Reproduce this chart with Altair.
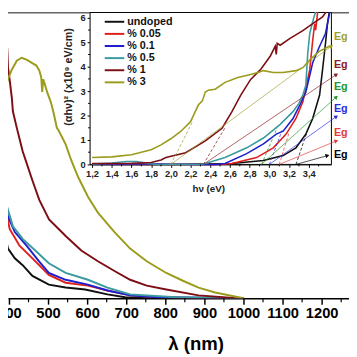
import math
import altair as alt
import pandas as pd

FONT = "Liberation Sans"

series = ["undoped", "% 0.05", "% 0.1", "% 0.5", "% 1", "% 3"]
line_colors = ["#111111", "#e0201c", "#1f1fd0", "#3a9aa0", "#7d0f14", "#9c9c1c"]

# ---- main spectrum: wavelength (nm) vs absorbance (a.u.) ----
lam_undoped = [377, 385, 397.5, 415, 435, 460, 502, 545, 595, 652, 697, 750, 850, 1000]
abs_undoped = [0.84, 0.74, 0.51, 0.41, 0.34, 0.23, 0.14, 0.11, 0.09, 0.04, 0.01, 0.005, 0.0, 0.0]

lam_005 = [382, 395, 402, 427, 460, 502, 545, 602, 652, 710, 777, 850, 1000]
abs_005 = [1.11, 0.84, 0.71, 0.54, 0.41, 0.24, 0.16, 0.13, 0.08, 0.03, 0.01, 0.005, 0.0]

lam_01 = [377, 390, 397.5, 415, 445, 477, 502, 545, 602, 652, 710, 780, 1000]
abs_01 = [1.28, 1.01, 0.84, 0.68, 0.54, 0.38, 0.26, 0.19, 0.14, 0.08, 0.03, 0.01, 0.0]

lam_05 = [377, 385, 395, 410, 435, 470, 502, 545, 602, 652, 710, 827, 1000]
abs_05 = [1.38, 1.18, 0.94, 0.74, 0.61, 0.48, 0.36, 0.26, 0.19, 0.11, 0.04, 0.01, 0.0]

lam_1 = [377, 390, 394, 395.5, 397.5, 402.5, 407.5, 410, 420, 427.5, 435, 447.5, 460, 477.5,
         502.5, 545, 585, 627.5, 670, 710, 752.5, 802.5, 885, 982.5, 1000]
abs_1 = [2.10, 2.12, 2.13, 2.57, 2.37, 2.22, 2.05, 1.92, 1.75, 1.63, 1.51, 1.36, 1.21, 1.01,
         0.81, 0.64, 0.49, 0.38, 0.28, 0.19, 0.13, 0.09, 0.03, 0.0, 0.0]

lam_3 = [377, 390, 397.5, 407.5, 420, 432.5, 445, 457.5, 470, 477.5, 482.5, 485, 487.5, 490,
         497.5, 507.5, 515, 522.5, 527.5, 545, 560, 577.5, 602.5, 627.5, 670, 710, 752.5,
         802.5, 845, 885, 927.5, 1000]
abs_3 = [2.14, 2.15, 2.25, 2.35, 2.44, 2.47, 2.45, 2.42, 2.39, 2.34, 2.27, 2.12, 2.25, 2.22,
         2.12, 2.01, 1.89, 1.75, 1.72, 1.58, 1.41, 1.24, 1.04, 0.88, 0.68, 0.51, 0.38,
         0.26, 0.18, 0.11, 0.06, 0.0]

main_lams = [lam_undoped, lam_005, lam_01, lam_05, lam_1, lam_3]
main_vals = [abs_undoped, abs_005, abs_01, abs_05, abs_1, abs_3]

# ---- inset: photon energy (eV) vs (alpha h nu)^2 (x10^9 eV/cm) ----
ev_undoped = [1.2, 2.0, 2.62, 2.94, 3.14, 3.27, 3.37, 3.44, 3.51, 3.54, 3.57, 3.59, 3.61]
ah_undoped = [0.0, 0.0, 0.04, 0.16, 0.36, 0.68, 1.24, 1.88, 2.84, 3.88, 4.96, 5.76, 6.28]

ev_005 = [1.2, 2.0, 2.5, 2.62, 2.87, 3.04, 3.17, 3.27, 3.34, 3.41, 3.44, 3.46, 3.47, 3.5]
ah_005 = [0.02, 0.0, 0.0, 0.04, 0.28, 0.68, 1.24, 1.88, 2.56, 3.88, 5.08, 5.76, 5.5, 6.6]

ev_01 = [1.2, 1.8, 2.2, 2.45, 2.55, 2.77, 2.94, 3.07, 3.14, 3.24, 3.31, 3.37, 3.44, 3.51, 3.57, 3.61, 3.62]
ah_01 = [0.02, 0.02, 0.0, 0.0, 0.04, 0.44, 0.84, 1.24, 1.36, 1.88, 2.44, 2.96, 4.16, 4.84, 5.36, 6.16, 6.5]

ev_05 = [1.2, 1.4, 1.55, 1.65, 1.75, 1.85, 2.0, 2.3, 2.35, 2.55, 2.77, 2.94, 3.11, 3.24, 3.3,
         3.34, 3.37, 3.39, 3.41, 3.45, 3.5]
ah_05 = [0.02, 0.06, 0.12, 0.12, 0.06, 0.0, 0.0, 0.0, 0.04, 0.28, 0.68, 1.08, 1.64, 2.16, 2.5,
         2.84, 3.24, 4.56, 5.36, 6.0, 6.6]

ev_1 = [1.2, 1.6, 1.8, 1.9, 1.95, 2.15, 2.35, 2.52, 2.62, 2.71, 2.81, 2.91, 3.01, 3.06, 3.07,
        3.08, 3.11, 3.21, 3.34, 3.44, 3.54, 3.61]
ah_1 = [0.04, 0.05, 0.08, 0.18, 0.28, 0.48, 0.96, 1.48, 2.16, 2.84, 3.48, 3.88, 4.44, 4.84, 4.5,
        4.96, 4.88, 5.16, 5.48, 5.76, 6.04, 6.44]

ev_3 = [1.2, 1.4, 1.6, 1.8, 1.9, 2.0, 2.1, 2.2, 2.28, 2.32, 2.35, 2.38, 2.45, 2.55, 2.68, 2.81,
        2.9, 2.94, 3.04, 3.14, 3.27, 3.34, 3.41, 3.51, 3.61]
ah_3 = [0.28, 0.31, 0.40, 0.60, 0.80, 1.05, 1.35, 1.75, 2.44, 2.60, 2.96, 3.04, 3.08, 3.36, 3.56,
        3.68, 3.78, 3.84, 3.76, 3.76, 3.84, 3.96, 4.28, 4.64, 4.84]

ins_evs = [ev_undoped, ev_005, ev_01, ev_05, ev_1, ev_3]
ins_vals = [ah_undoped, ah_005, ah_01, ah_05, ah_1, ah_3]

# ---- band gap extrapolations ----
eg_values = [3.27, 3.10, 3.00, 2.92, 2.33, 2.00]
eg_colors = ["#000000", "#e33a3a", "#2a2ae0", "#24962a", "#8b1a1a", "#a0a02a"]
tangent_end_ev = [3.38, 3.20, 3.13, 3.08, 2.55, 2.22]
tangent_end_y = [1.30, 1.30, 1.40, 1.50, 1.50, 1.75]
arrow_end_ev = [3.59, 3.68, 3.68, 3.68, 3.68, 3.63]
arrow_end_y = [0.36, 0.96, 1.96, 2.76, 3.68, 4.84]
label_y = [0.40, 1.28, 2.28, 3.16, 4.08, 5.20]

main_ticks = list(range(400, 1300, 100))
main_minor = list(range(450, 1300, 100))
inset_xticks = [1.2, 1.4, 1.6, 1.8, 2.0, 2.2, 2.4, 2.6, 2.8, 3.0, 3.2, 3.4]
inset_xminor = [1.3, 1.5, 1.7, 1.9, 2.1, 2.3, 2.5, 2.7, 2.9, 3.1, 3.3, 3.5]
inset_yticks = [0, 1, 2, 3, 4, 5, 6]
inset_yminor = [0.5, 1.5, 2.5, 3.5, 4.5, 5.5]

# ---- layout (pixels) ----
W, H = 349, 293
IX0, IX1, IY0, IY1 = 84, 331, 0, 156

main_x = alt.Scale(domain=[397.5, 1270], range=[0, W], nice=False, zero=False)
main_y = alt.Scale(domain=[0, 2.94], range=[H, 0], nice=False, zero=False)
ins_x = alt.Scale(domain=[1.18, 3.63], range=[IX0, IX1], nice=False, zero=False)
ins_y = alt.Scale(domain=[0, 6.24], range=[IY1, IY0], nice=False, zero=False)

rows = []
for s, c, ls, vs in zip(series, line_colors, main_lams, main_vals):
    for l, v in zip(ls, vs):
        rows.append({"series": s, "col": c, "lam": l, "val": v})
df_main = pd.DataFrame(rows)

rows = []
for s, c, es, vs in zip(series, line_colors, ins_evs, ins_vals):
    for e, v in zip(es, vs):
        rows.append({"series": s, "col": c, "ev": e, "ay": v})
df_ins = pd.DataFrame(rows)

px_ev = (IX1 - IX0) / (3.63 - 1.18)
px_y = (IY1 - IY0) / 6.24
rows = []
for i, s in enumerate(series):
    ang = math.degrees(math.atan2(-(arrow_end_y[i]) * px_y, (arrow_end_ev[i] - eg_values[i]) * px_ev))
    rows.append({
        "series": s, "col": eg_colors[i], "eg": eg_values[i], "zero": 0.0,
        "tx": tangent_end_ev[i], "ty": tangent_end_y[i],
        "ax": arrow_end_ev[i], "ay": arrow_end_y[i], "ang": ang % 360,
        "lx": 3.655, "ly": label_y[i], "lab": "Eg",
    })
df_eg = pd.DataFrame(rows)

df_leg = pd.DataFrame({"series": series, "col": line_colors})

# main spectra
main_lines = alt.Chart(df_main).mark_line(strokeWidth=2, clip=True).encode(
    x=alt.X("lam:Q", scale=main_x, axis=alt.Axis(
        values=main_ticks, format="d", grid=False,
        domainColor="black", domainWidth=1.5, tickColor="black", tickWidth=1.5, tickSize=6,
        labelFont=FONT, labelFontSize=15, labelFontWeight="bold", labelColor="black",
        labelPadding=2, labelFlush=False, labelOverlap=False, labelBound=False,
        title="λ (nm)", titleFont=FONT, titleFontSize=19, titleFontWeight="bold",
        titleColor="black", titleX=192, titleY=46, titleBaseline="middle", titleAlign="center")),
    y=alt.Y("val:Q", scale=main_y, axis=None),
    color=alt.Color("col:N", scale=None),
    detail="series:N",
)

main_minor_ticks = alt.Chart(pd.DataFrame({"m": main_minor})).mark_rule(
    color="black", strokeWidth=1.2).encode(
    x=alt.X("m:Q", scale=main_x, axis=None),
    y=alt.value(H), y2=alt.value(H + 4),
)

top_frame = alt.Chart(pd.DataFrame({"a": [0]})).mark_rule(color="#666666", strokeWidth=1.5).encode(
    x=alt.value(0), x2=alt.value(W), y=alt.value(0.75))

inset_box = alt.Chart(pd.DataFrame({"a": [0]})).mark_rect(
    fill="white", stroke="black", strokeWidth=1).encode(
    x=alt.value(IX0), x2=alt.value(IX1), y=alt.value(IY0 + 0.5), y2=alt.value(IY1))

inset_lines = alt.Chart(df_ins).mark_line(strokeWidth=1.6, clip=True).encode(
    x=alt.X("ev:Q", scale=ins_x, axis=alt.Axis(
        orient="bottom", offset=-(H - IY1), values=inset_xticks, grid=False,
        labelExpr="replace(format(datum.value, '.1f'), '.', ',')",
        domainColor="black", domainWidth=1, tickColor="black", tickSize=3,
        labelFont=FONT, labelFontSize=9.5, labelFontWeight="bold", labelColor="#222222",
        labelPadding=1, labelFlush=False, labelOverlap=False,
        title="hν (eV)", titleFont=FONT, titleFontSize=10, titleFontWeight="bold",
        titleColor="#222222", titleX=205, titleY=25, titleBaseline="middle", titleAlign="center")),
    y=alt.Y("ay:Q", scale=ins_y, axis=alt.Axis(
        orient="left", offset=-IX0, values=inset_yticks, grid=False,
        domainColor="black", domainWidth=1, tickColor="black", tickSize=3,
        labelFont=FONT, labelFontSize=9.5, labelFontWeight="bold", labelColor="#222222",
        labelPadding=2, labelFlush=False, labelOverlap=False,
        title="(αhν)² (x10⁹ eV/cm)", titleFont=FONT, titleFontSize=11, titleFontWeight="bold",
        titleColor="#222222", titleX=-22, titleY=66, titleAngle=270,
        titleBaseline="middle", titleAlign="center")),
    color=alt.Color("col:N", scale=None),
    detail="series:N",
)

inset_minor_x = alt.Chart(pd.DataFrame({"m": inset_xminor})).mark_rule(
    color="black", strokeWidth=1).encode(
    x=alt.X("m:Q", scale=ins_x, axis=None), y=alt.value(IY1), y2=alt.value(IY1 + 2))

inset_minor_y = alt.Chart(pd.DataFrame({"m": inset_yminor})).mark_rule(
    color="black", strokeWidth=1).encode(
    y=alt.Y("m:Q", scale=ins_y, axis=None), x=alt.value(IX0 - 2), x2=alt.value(IX0))

tangents = alt.Chart(df_eg).mark_rule(strokeWidth=1, strokeDash=[3, 2], opacity=0.75).encode(
    x=alt.X("eg:Q", scale=ins_x, axis=None), x2="tx:Q",
    y=alt.Y("zero:Q", scale=ins_y, axis=None), y2="ty:Q",
    color=alt.Color("col:N", scale=None),
)

eg_lines = alt.Chart(df_eg).mark_rule(strokeWidth=0.8, opacity=0.85).encode(
    x=alt.X("eg:Q", scale=ins_x, axis=None), x2="ax:Q",
    y=alt.Y("zero:Q", scale=ins_y, axis=None), y2="ay:Q",
    color=alt.Color("col:N", scale=None),
)

eg_arrows = alt.Chart(df_eg).mark_point(shape="triangle-right", filled=True, size=22, opacity=1).encode(
    x=alt.X("ax:Q", scale=ins_x, axis=None),
    y=alt.Y("ay:Q", scale=ins_y, axis=None),
    angle=alt.Angle("ang:Q", scale=None),
    color=alt.Color("col:N", scale=None),
)

eg_text = alt.Chart(df_eg).mark_text(
    align="left", baseline="middle", font=FONT, fontSize=11, fontWeight="bold").encode(
    x=alt.X("lx:Q", scale=ins_x, axis=None),
    y=alt.Y("ly:Q", scale=ins_y, axis=None),
    text="lab:N",
    color=alt.Color("col:N", scale=None),
)

leg_y = alt.Scale(type="point", domain=series, range=[10, 72], padding=0)
legend_lines = alt.Chart(df_leg).mark_rule(strokeWidth=2).encode(
    y=alt.Y("series:N", scale=leg_y, axis=None),
    x=alt.value(99), x2=alt.value(119),
    color=alt.Color("col:N", scale=None),
)
legend_text = alt.Chart(df_leg).mark_text(
    align="left", baseline="middle", font=FONT, fontSize=11, fontWeight="bold", color="#111111").encode(
    y=alt.Y("series:N", scale=leg_y, axis=None),
    x=alt.value(122),
    text="series:N",
)

chart = alt.layer(
    main_lines, main_minor_ticks, top_frame, inset_box, inset_lines, inset_minor_x, inset_minor_y,
    tangents, eg_lines, eg_arrows, eg_text, legend_lines, legend_text,
).resolve_scale(x="independent", y="independent").properties(
    width=W, height=H,
    padding={"left": 0, "top": 0, "right": 0, "bottom": 56},
    autosize=alt.AutoSizeParams(type="none"),
    background="white",
).configure_view(stroke=None)

chart.save("out.html", embed_options={"renderer": "svg", "actions": False})
